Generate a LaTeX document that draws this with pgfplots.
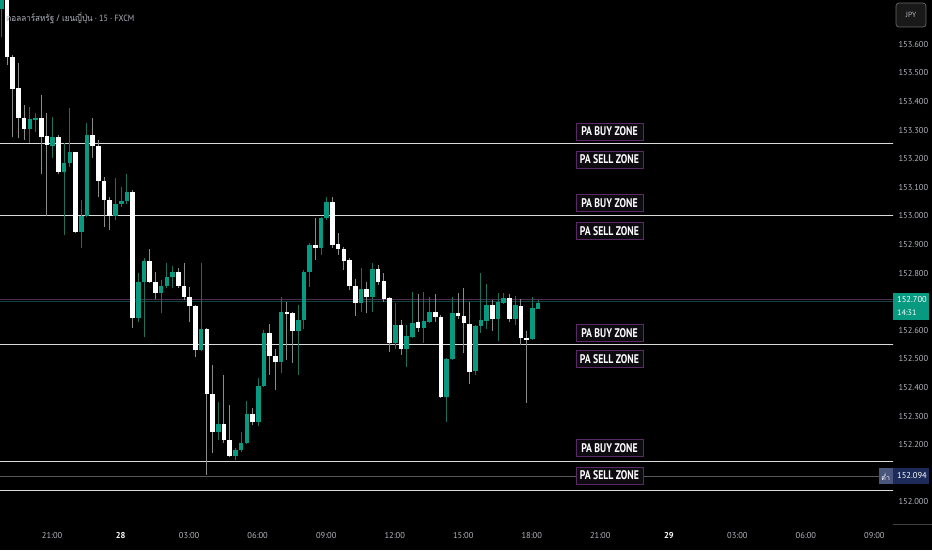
\documentclass[border=0pt]{standalone}
\usepackage{pgfplots}
\usepackage{pgfplotstable}
\usepackage{graphicx}
\pgfplotsset{compat=1.18}
\usepackage{fontspec}
\setmainfont{PT Sans}
\newfontfamily\thaifont[Script=Thai]{Loma}
\definecolor{tvgreen}{HTML}{089981}
\definecolor{wickgreen}{HTML}{1E6E5E}
\definecolor{wickgray}{HTML}{8A8A8A}
\definecolor{zoneline}{HTML}{DADADA}
\definecolor{tvgray}{HTML}{B2B5BE}
\definecolor{zoneborder}{HTML}{5B2A66}
\definecolor{zonefill}{HTML}{0D0A10}
\definecolor{lowblue}{HTML}{1C2B5A}
\definecolor{pricepurple}{HTML}{4B2D55}

\pgfplotstableread{
x o h l c
0 153.724 153.820 153.626 153.800
5 153.304 153.381 153.255 153.339
6 153.339 153.360 153.294 153.343
9 153.245 153.346 153.203 153.276
11 153.154 153.255 152.934 153.185
12 153.185 153.378 153.171 153.224
14 152.944 153.056 152.888 153.000
15 153.000 153.325 152.997 153.283
20 153.000 153.133 152.986 153.042
21 153.042 153.101 153.031 153.052
22 153.052 153.150 153.045 153.084
24 152.643 152.801 152.629 152.769
25 152.769 152.853 152.577 152.843
28 152.731 152.776 152.661 152.755
29 152.755 152.836 152.748 152.787
30 152.787 152.825 152.748 152.804
35 152.531 152.836 152.528 152.605
38 152.245 152.350 152.217 152.273
41 152.161 152.192 152.147 152.182
42 152.182 152.245 152.175 152.206
43 152.206 152.353 152.203 152.308
45 152.280 152.434 152.266 152.406
46 152.406 152.601 152.402 152.591
49 152.490 152.717 152.451 152.664
52 152.598 152.689 152.444 152.636
53 152.636 152.811 152.608 152.804
54 152.804 152.906 152.752 152.899
56 152.888 152.997 152.864 152.993
57 152.993 153.066 152.986 153.049
63 152.696 152.818 152.664 152.745
65 152.720 152.836 152.664 152.815
69 152.556 152.696 152.535 152.619
71 152.535 152.619 152.472 152.580
72 152.580 152.734 152.573 152.629
74 152.608 152.734 152.556 152.633
75 152.629 152.717 152.626 152.664
78 152.367 152.503 152.280 152.500
79 152.500 152.717 152.497 152.661
83 152.458 152.619 152.444 152.615
84 152.615 152.801 152.594 152.636
85 152.636 152.762 152.605 152.689
87 152.640 152.734 152.563 152.699
88 152.696 152.731 152.692 152.713
90 152.640 152.720 152.619 152.689
93 152.570 152.717 152.566 152.678
94 152.678 152.706 152.675 152.699
}\upcandles

\pgfplotstableread{
x o h l c
1 153.800 153.820 153.531 153.556
2 153.556 153.565 153.276 153.444
3 153.448 153.535 153.273 153.343
4 153.343 153.388 153.266 153.304
7 153.343 153.423 153.150 153.276
8 153.280 153.360 153.000 153.248
10 153.276 153.283 153.150 153.154
13 153.224 153.224 152.941 152.944
16 153.283 153.343 153.203 153.245
17 153.245 153.266 153.066 153.122
18 153.122 153.136 152.962 153.056
19 153.056 153.066 152.951 153.000
23 153.084 153.090 152.608 152.643
26 152.843 152.885 152.766 152.769
27 152.769 152.804 152.713 152.731
31 152.804 152.818 152.748 152.755
32 152.755 152.836 152.706 152.717
33 152.717 152.752 152.629 152.685
34 152.685 152.689 152.507 152.531
36 152.605 152.608 152.094 152.378
37 152.378 152.479 152.171 152.245
39 152.273 152.444 152.206 152.217
40 152.217 152.339 152.157 152.161
44 152.308 152.329 152.269 152.280
47 152.591 152.622 152.444 152.510
48 152.510 152.535 152.392 152.490
50 152.664 152.699 152.497 152.657
51 152.661 152.664 152.486 152.598
55 152.899 152.993 152.846 152.888
58 153.049 153.066 152.888 152.899
59 152.902 152.941 152.864 152.885
60 152.885 152.892 152.811 152.843
61 152.846 152.853 152.741 152.755
62 152.755 152.780 152.650 152.696
64 152.745 152.769 152.661 152.720
66 152.815 152.829 152.759 152.769
67 152.773 152.801 152.699 152.710
68 152.713 152.717 152.524 152.556
70 152.619 152.636 152.514 152.535
73 152.629 152.727 152.594 152.608
76 152.664 152.727 152.629 152.647
77 152.650 152.654 152.364 152.367
80 152.661 152.734 152.643 152.650
81 152.650 152.748 152.521 152.626
82 152.626 152.699 152.413 152.458
86 152.689 152.706 152.598 152.640
89 152.713 152.727 152.629 152.640
91 152.685 152.710 152.549 152.573
92 152.573 152.598 152.346 152.570
}\downcandles

\begin{document}
\begin{tikzpicture}[x=1pt,y=1pt]
\fill[black] (0,-29) rectangle (932,521);
\begin{axis}[
  at={(0,0)}, anchor=south west, scale only axis,
  width=893pt, height=521pt,
  xmin=-0.226, xmax=156.16, ymin=151.9336, ymax=153.7552,
  axis line style={draw=none}, major tick length=0pt,
  yticklabel pos=right,
  ytick={152.0,152.2,152.3,152.4,152.5,152.6,152.8,152.9,153.0,153.1,153.2,153.3,153.4,153.5,153.6},
  yticklabels={152.000,152.200,152.300,152.400,152.500,152.600,152.800,152.900,153.000,153.100,153.200,153.300,153.400,153.500,153.600},
  yticklabel style={font=\fontsize{8.5}{9}\selectfont, text=tvgray, xshift=2pt},
  xtick={8.9,20.9,32.9,44.9,56.9,68.9,80.9,92.9,104.9,116.9,128.9,140.9,152.9},
  xticklabels={21:00,{\color{white}\bfseries 28},03:00,06:00,09:00,12:00,15:00,18:00,21:00,{\color{white}\bfseries 29},03:00,06:00,09:00},
  xticklabel style={font=\fontsize{8.5}{9}\selectfont, text=tvgray, yshift=-8pt},
  candle/.style={draw=none, mark=none, forget plot,
    error bars/.cd, y dir=both, y explicit, error mark=none},
]
% zone lines
\addplot[zoneline, line width=1pt, forget plot] coordinates {(-1,153.252) (160,153.252)};
\addplot[zoneline, line width=1pt, forget plot] coordinates {(-1,153.003) (160,153.003)};
\addplot[zoneline, line width=1pt, forget plot] coordinates {(-1,152.549) (160,152.549)};
\addplot[zoneline, line width=1pt, forget plot] coordinates {(-1,152.143) (160,152.143)};
\addplot[zoneline, line width=1pt, forget plot] coordinates {(-1,152.040) (160,152.040)};
\addplot[black!65!white, line width=0.6pt, forget plot] coordinates {(-1,152.091) (160,152.091)};
\addplot[pricepurple, line width=0.8pt, forget plot] coordinates {(-1,152.709) (160,152.709)};
\addplot[wickgreen!60!black, line width=0.6pt, forget plot] coordinates {(-1,152.702) (160,152.702)};
% wicks
\addplot[candle, error bar style={line width=1pt, draw=wickgreen, solid}]
  table[x=x, y expr={(\thisrow{h}+\thisrow{l})/2}, y error expr={(\thisrow{h}-\thisrow{l})/2}] {\upcandles};
\addplot[candle, error bar style={line width=1pt, draw=wickgray, solid}]
  table[x=x, y expr={(\thisrow{h}+\thisrow{l})/2}, y error expr={(\thisrow{h}-\thisrow{l})/2}] {\downcandles};
% bodies
\addplot[candle, error bar style={line width=4.6pt, draw=tvgreen, solid}]
  table[x=x, y expr={(\thisrow{o}+\thisrow{c})/2}, y error expr={max(abs(\thisrow{c}-\thisrow{o})/2,0.0013)}] {\upcandles};
\addplot[candle, error bar style={line width=4.6pt, draw=white, solid}]
  table[x=x, y expr={(\thisrow{o}+\thisrow{c})/2}, y error expr={max(abs(\thisrow{c}-\thisrow{o})/2,0.0013)}] {\downcandles};
% zone labels
\tikzset{zone/.style={draw=zoneborder, fill=zonefill, line width=0.8pt, text=white, minimum width=67pt, minimum height=17pt, inner sep=0pt, font=\fontsize{12.5}{13}\selectfont\bfseries}}
\node[zone] at (axis cs:106.5,153.2955) {\scalebox{0.78}[1]{PA BUY ZONE}};
\node[zone] at (axis cs:106.5,153.1976) {\scalebox{0.78}[1]{PA SELL ZONE}};
\node[zone] at (axis cs:106.5,153.0455) {\scalebox{0.78}[1]{PA BUY ZONE}};
\node[zone] at (axis cs:106.5,152.9476) {\scalebox{0.78}[1]{PA SELL ZONE}};
\node[zone] at (axis cs:106.5,152.591) {\scalebox{0.78}[1]{PA BUY ZONE}};
\node[zone] at (axis cs:106.5,152.500) {\scalebox{0.78}[1]{PA SELL ZONE}};
\node[zone] at (axis cs:106.5,152.189) {\scalebox{0.78}[1]{PA BUY ZONE}};
\node[zone] at (axis cs:106.5,152.093) {\scalebox{0.78}[1]{PA SELL ZONE}};
\end{axis}
% title
\node[anchor=west, text=tvgray, font=\fontsize{9}{10}\selectfont, inner sep=0pt] at (6,503) {\scalebox{0.9}[1]{{\thaifont ดอลลาร์สหรัฐ / เยนญี่ปุ่น} · 15 · FXCM}};
% JPY box
\draw[rounded corners=3pt, draw=black!60!white, fill=black!90!white, line width=0.7pt] (896,494) rectangle (926,518);
\node[text=tvgray, font=\fontsize{7.5}{8}\selectfont] at (911,506) {JPY};
% current price box
\fill[tvgreen] (893,201) rectangle (929,228);
\node[text=white, font=\fontsize{8.5}{9}\selectfont, anchor=west, inner sep=0pt] at (897,221) {152.700};
\node[text=white, font=\fontsize{8}{9}\selectfont, anchor=west, inner sep=0pt] at (897,208) {14:31};
% low box
\fill[lowblue!80!white] (879,37) rectangle (892.5,53);
\node[text=white, font=\fontsize{7}{8}\selectfont\thaifont, inner sep=0pt] at (885.7,44.5) {ต่ำ};
\fill[lowblue] (893,37) rectangle (929,53);
\node[text=white, font=\fontsize{8.5}{9}\selectfont, anchor=west, inner sep=0pt] at (897,45) {152.094};
\draw[black!75!white, line width=0.6pt] (893,-3) -- (932,-3);
\pgfresetboundingbox
\useasboundingbox (0,-29) rectangle (932,521);
\end{tikzpicture}
\end{document}
